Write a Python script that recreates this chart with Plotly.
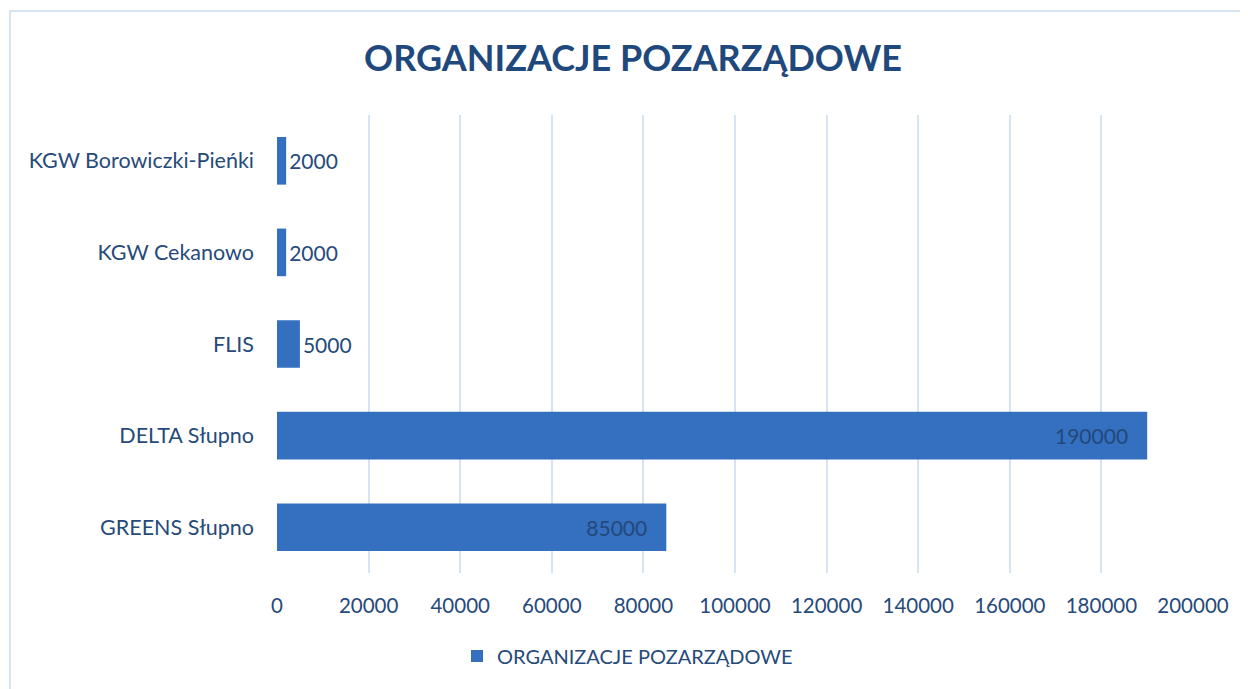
import plotly.graph_objects as go

categories = ["GREENS Słupno", "DELTA Słupno", "FLIS", "KGW Cekanowo", "KGW Borowiczki-Pieńki"]
values = [85000, 190000, 5000, 2000, 2000]
series_name = "ORGANIZACJE POZARZĄDOWE"
title_text = "ORGANIZACJE POZARZĄDOWE"
x_ticks = [0, 20000, 40000, 60000, 80000, 100000, 120000, 140000, 160000, 180000, 200000]

# page has an 8px body margin, so figure coords = screen coords - 8
OFF = 8
W, H = 1240, 681
L, R, T, B = 277 - OFF, 55, 115 - OFF, 116
pw, ph = W - L - R, H - T - B

text_color = "#264a7a"
font_family = "Lato, 'Open Sans', sans-serif"

positions = ["inside" if v > 20000 else "outside" for v in values]
labels = [(str(v) + "\u00a0\u00a0\u00a0") if v > 20000 else str(v) for v in values]

fig = go.Figure()
fig.add_trace(go.Bar(
    y=categories, x=values, orientation="h", name=series_name,
    marker=dict(color="#3470bf", line=dict(width=0)),
    width=0.52,
    text=labels,
    textposition=positions,
    insidetextanchor="end",
    constraintext="none",
    cliponaxis=False,
    textfont=dict(family=font_family, size=21, color=text_color),
    insidetextfont=dict(family=font_family, size=21, color="#23487a"),
    outsidetextfont=dict(family=font_family, size=21, color=text_color),
))

fig.update_layout(
    width=W, height=H,
    margin=dict(l=L, r=R, t=T, b=B),
    paper_bgcolor="white", plot_bgcolor="white",
    font=dict(family=font_family, size=20, color=text_color),
    title=dict(text="<b>" + title_text + "</b>", x=(633 - OFF) / W, xanchor="center",
               y=1 - (58 - OFF) / H, yanchor="middle",
               font=dict(family=font_family, size=36, color="#1f497d")),
    showlegend=True,
    legend=dict(orientation="h", x=(457 - OFF - L) / pw, xanchor="left",
                y=-(656 - OFF - (H - B)) / ph, yanchor="middle",
                font=dict(family=font_family, size=20, color=text_color),
                itemwidth=30),
    xaxis=dict(range=[0, 200000], tickvals=x_ticks, ticktext=[str(t) for t in x_ticks],
               showgrid=True, gridcolor="#d6e3f3", gridwidth=2, zeroline=False,
               showline=False, ticks="", ticklabelstandoff=18,
               tickfont=dict(family=font_family, size=20.5, color=text_color)),
    yaxis=dict(showgrid=False, showline=False, ticks="", ticklabelstandoff=22,
               tickfont=dict(family=font_family, size=21.5, color=text_color)),
    bargap=0.48,
    shapes=[dict(type="rect", xref="paper", yref="paper",
                 x0=(10 - OFF - L) / pw, x1=(W + 20 - L) / pw,
                 y0=-(H + 20 - (H - B)) / ph, y1=1 + (T - (11 - OFF)) / ph,
                 line=dict(color="#d6e3f3", width=2), fillcolor="rgba(0,0,0,0)",
                 layer="below")],
)

fig.write_html("out.html")
